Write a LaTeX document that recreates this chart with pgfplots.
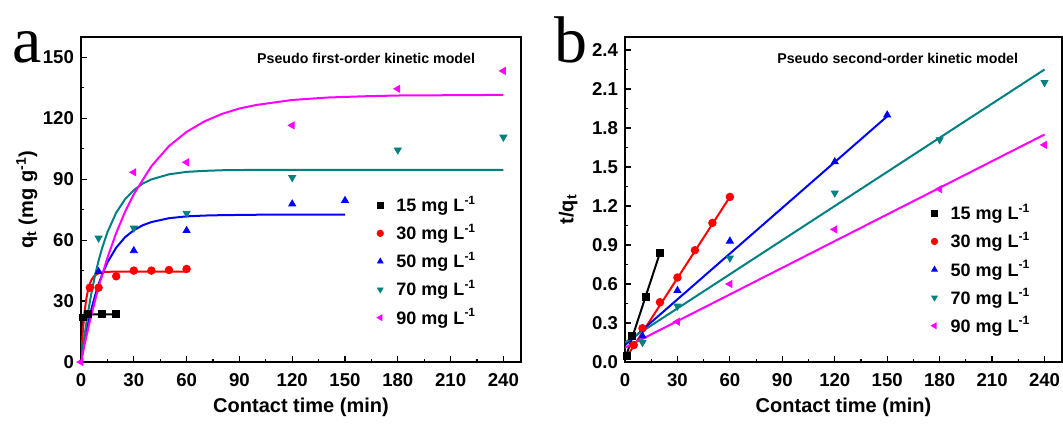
\documentclass[border=0pt]{standalone}
\usepackage{pgfplots}
\pgfplotsset{compat=1.18}
\usepackage{fontspec}
\setmainfont{Liberation Sans}
\newfontfamily\letterfont{Liberation Serif}
\definecolor{tealc}{RGB}{0,128,128}
\definecolor{magc}{RGB}{255,0,255}

\pgfplotsset{
  kin/.style={
    scale only axis, height=162.5pt,
    xmin=0, xmax=250, xtick={0,30,...,240}, minor x tick num=1, minor y tick num=1,
    tick align=inside, xtick pos=bottom, ytick pos=left,
    axis line style={line width=0.75pt},
    major tick length=3pt, minor tick length=1.6pt,
    every tick/.style={black, line width=0.6pt},
    tick label style={font=\bfseries\fontsize{9.3}{9.3}\selectfont},
    /pgf/number format/assume math mode=true,
    xticklabel style={yshift=-2pt},
    label style={font=\bfseries\fontsize{10}{10}\selectfont},
    xlabel={Contact time (min)},
    xlabel style={at={(axis description cs:0.5,-0.138)}, anchor=center},
    legend style={draw=none, fill=none, font=\bfseries\fontsize{9}{9}\selectfont,
      row sep=0.6pt, anchor=north west, inner sep=0pt,
      /tikz/every odd column/.append style={column sep=4.5pt}},
    legend cell align=left,
    legend image post style={mark size=1.6pt},
  },
  fit/.style={line width=1pt, no marks, forget plot},
  dots/.style={only marks, mark size=2pt},
}

\begin{document}
\begin{tikzpicture}
\path[use as bounding box] (0,0) rectangle (531.5pt,212.5pt);

% panel a: pseudo first-order
\begin{axis}[kin, at={(40.5pt,31.5pt)}, anchor=south west, width=220pt,
    ymin=0, ymax=160, ytick={0,30,...,150},
    ylabel={q\textsubscript{t} (mg g\textsuperscript{-1})},
    ylabel style={at={(axis description cs:-0.123,0.5)}, anchor=center},
    legend style={at={(0.672,0.525)}}]
\addplot[fit, black] coordinates {(0,0) (0.25,7.4) (0.5,12.4) (0.75,15.9) (1,18.3) (1.5,21.0) (2,22.3) (3,23.2) (4,23.4) (5,23.5) (10,23.5) (20,23.5)};
\addplot[fit, red] coordinates {(0,0) (0.5,8.1) (1,14.7) (2,24.5) (3,31.1) (4,35.5) (5,38.5) (6,40.5) (7,41.8) (8,42.7) (10,43.7) (12,44.1) (15,44.4) (20,44.5) (30,44.5) (60,44.5)};
\addplot[fit, blue] coordinates {(0,0) (2,10.1) (4,18.8) (6,26.3) (8,32.7) (10,38.3) (12,43.0) (15,49.0) (20,56.3) (25,61.4) (30,64.9) (35,67.3) (40,68.9) (50,70.8) (60,71.7) (70,72.1) (80,72.3) (100,72.5) (150,72.5)};
\addplot[fit, tealc] coordinates {(0,0) (2,13.2) (4,24.5) (6,34.3) (8,42.7) (10,49.9) (12,56.1) (15,63.9) (20,73.5) (25,80.1) (30,84.6) (35,87.8) (40,89.9) (50,92.4) (60,93.6) (70,94.1) (80,94.4) (100,94.6) (240,94.6)};
\addplot[fit, magc] coordinates {(0,0) (2,8.4) (5,20.0) (10,37.0) (15,51.3) (20,63.5) (25,73.9) (30,82.6) (40,96.4) (50,106.3) (60,113.3) (70,118.4) (80,122.1) (90,124.8) (100,126.6) (120,129.0) (140,130.2) (160,130.8) (180,131.2) (200,131.3) (240,131.5)};

\addplot[dots, black, mark=square*, mark size=1.7pt] coordinates {(1,22) (4,23.5) (12,23.5) (20,23.5)};
\addplot[dots, red, mark=*, mark size=1.9pt] coordinates {(5,36.6) (10,36.6) (20,42.2) (30,45.0) (40,45.0) (50,45.3) (60,45.8)};
\addplot[dots, blue, mark=triangle*] coordinates {(10,44.5) (30,54.8) (60,64.7) (120,77.8) (150,79.5)};
\addplot[dots, tealc, mark=triangle*, mark options={rotate=180}] coordinates {(10,61.0) (30,65.9) (60,73.2) (120,90.8) (180,104.4) (240,110.7)};
\addplot[dots, magc, mark=triangle*, mark options={rotate=90}] coordinates {(0,0) (30,93.4) (60,98.3) (120,116.5) (180,134.5) (240,143.3)};
\legend{15 mg L\textsuperscript{-1}, 30 mg L\textsuperscript{-1}, 50 mg L\textsuperscript{-1}, 70 mg L\textsuperscript{-1}, 90 mg L\textsuperscript{-1}}
\node[font=\bfseries\fontsize{7.1}{7.1}\selectfont] at (axis description cs:0.648,0.935) {Pseudo first-order kinetic model};
\end{axis}

% panel b: pseudo second-order
\begin{axis}[kin, at={(312.5pt,31.5pt)}, anchor=south west, width=218.5pt,
    ymin=0, ymax=2.5, ytick={0,0.3,...,2.41},
    yticklabel style={/pgf/number format/.cd, fixed, fixed zerofill, precision=1},
    ylabel={t/q\textsubscript{t}},
    ylabel style={at={(axis description cs:-0.13,0.47)}, anchor=center},
    legend style={at={(0.7,0.5)}}]
\addplot[fit, black] coordinates {(0,0.02) (20,0.84)};
\addplot[fit, red] coordinates {(0,0.02) (60,1.27)};
\addplot[fit, blue] coordinates {(0,0.13) (150,1.89)};
\addplot[fit, tealc] coordinates {(0,0.15) (240,2.25)};
\addplot[fit, magc] coordinates {(0,0.11) (240,1.75)};

\addplot[dots, black, mark=square*, mark size=1.7pt] coordinates {(1,0.05) (4,0.20) (12,0.50) (20,0.84)};
\addplot[dots, red, mark=*, mark size=1.9pt] coordinates {(5,0.13) (10,0.26) (20,0.46) (30,0.65) (40,0.86) (50,1.07) (60,1.27)};
\addplot[dots, blue, mark=triangle*] coordinates {(10,0.20) (30,0.55) (60,0.93) (120,1.54) (150,1.90)};
\addplot[dots, tealc, mark=triangle*, mark options={rotate=180}] coordinates {(10,0.15) (30,0.43) (60,0.80) (120,1.30) (180,1.71) (240,2.15)};
\addplot[dots, magc, mark=triangle*, mark options={rotate=90}] coordinates {(30,0.31) (60,0.60) (120,1.02) (180,1.33) (240,1.67)};
\legend{15 mg L\textsuperscript{-1}, 30 mg L\textsuperscript{-1}, 50 mg L\textsuperscript{-1}, 70 mg L\textsuperscript{-1}, 90 mg L\textsuperscript{-1}}
\node[font=\bfseries\fontsize{7.1}{7.1}\selectfont] at (axis description cs:0.624,0.935) {Pseudo second-order kinetic model};
\end{axis}

\node[anchor=base west, inner sep=0pt, font=\letterfont\fontsize{33}{33}\selectfont] at (6pt,181.5pt) {a};
\node[anchor=base west, inner sep=0pt, font=\letterfont\fontsize{33}{33}\selectfont] at (277pt,181.5pt) {b};
\end{tikzpicture}
\end{document}
